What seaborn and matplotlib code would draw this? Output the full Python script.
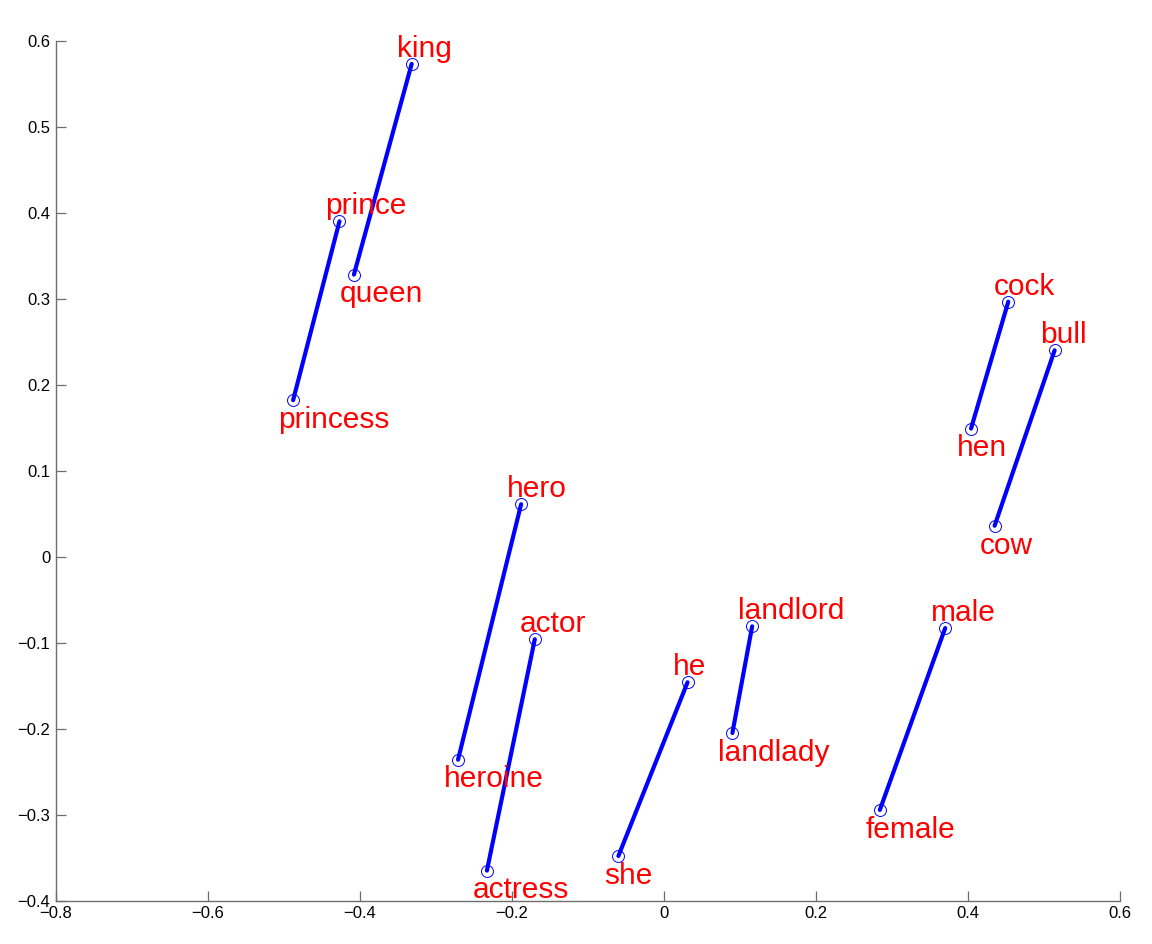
import matplotlib
matplotlib.use("Agg")
import matplotlib.pyplot as plt
import seaborn as sns
import pandas as pd

# Word pairs: (upper word, lower word)
upper_words = ["king", "prince", "hero", "actor", "he", "landlord", "male", "cock", "bull"]
upper_x = [-0.332, -0.427, -0.188, -0.170, 0.031, 0.116, 0.370, 0.453, 0.514]
upper_y = [0.573, 0.390, 0.061, -0.096, -0.146, -0.081, -0.083, 0.2965, 0.240]

lower_words = ["queen", "princess", "heroine", "actress", "she", "landlady", "female", "hen", "cow"]
lower_x = [-0.408, -0.488, -0.271, -0.233, -0.060, 0.090, 0.284, 0.404, 0.435]
lower_y = [0.328, 0.182, -0.236, -0.365, -0.348, -0.205, -0.2945, 0.149, 0.036]

x_ticks = [-0.8, -0.6, -0.4, -0.2, 0, 0.2, 0.4, 0.6]
y_ticks = [-0.4, -0.3, -0.2, -0.1, 0, 0.1, 0.2, 0.3, 0.4, 0.5, 0.6]

rows = []
for i in range(len(upper_words)):
    rows.append({"pair": i, "word": upper_words[i], "x": upper_x[i], "y": upper_y[i], "pos": "upper"})
    rows.append({"pair": i, "word": lower_words[i], "x": lower_x[i], "y": lower_y[i], "pos": "lower"})
df = pd.DataFrame(rows)

sns.set_style("ticks")
plt.rcParams["font.family"] = ["Liberation Sans", "DejaVu Sans"]

fig = plt.figure(figsize=(11.52, 9.44), dpi=100)
ax = fig.add_axes([56 / 1152, (944 - 900.7) / 944, (1120 - 56) / 1152, (900.7 - 40.7) / 944])

sns.lineplot(data=df, x="x", y="y", units="pair", estimator=None, sort=False,
             color="blue", linewidth=3.0, marker="o", markersize=8.6,
             markerfacecolor="none", markeredgecolor="blue", markeredgewidth=0.7,
             ax=ax, legend=False)

for _, r in df.iterrows():
    dy = 5 if r["pos"] == "upper" else -20
    ax.annotate(r["word"], (r["x"], r["y"]), xytext=(-10.5, dy), textcoords="offset points",
                ha="left", va="baseline", color="red", fontsize=21.5, clip_on=False)

ax.set_xlim(-0.8, 0.6)
ax.set_ylim(-0.4, 0.6)
ax.set_xticks(x_ticks)
ax.set_yticks(y_ticks)
ax.set_xticklabels([("\u2212" if v < 0 else "") + ("%g" % abs(v)) for v in x_ticks])
ax.set_yticklabels([("\u2212" if v < 0 else "") + ("%g" % abs(v)) for v in y_ticks])
ax.set_xlabel("")
ax.set_ylabel("")

for side in ["top", "right"]:
    ax.spines[side].set_visible(False)
for side in ["left", "bottom"]:
    ax.spines[side].set_color("#6e6e6e")
    ax.spines[side].set_linewidth(1.0)
ax.tick_params(direction="in", length=7.5, width=0.9, color="#6e6e6e",
               labelsize=12, labelcolor="black")
ax.tick_params(axis="x", pad=4)
ax.tick_params(axis="y", pad=4)

fig.savefig("out.png", dpi=100)
